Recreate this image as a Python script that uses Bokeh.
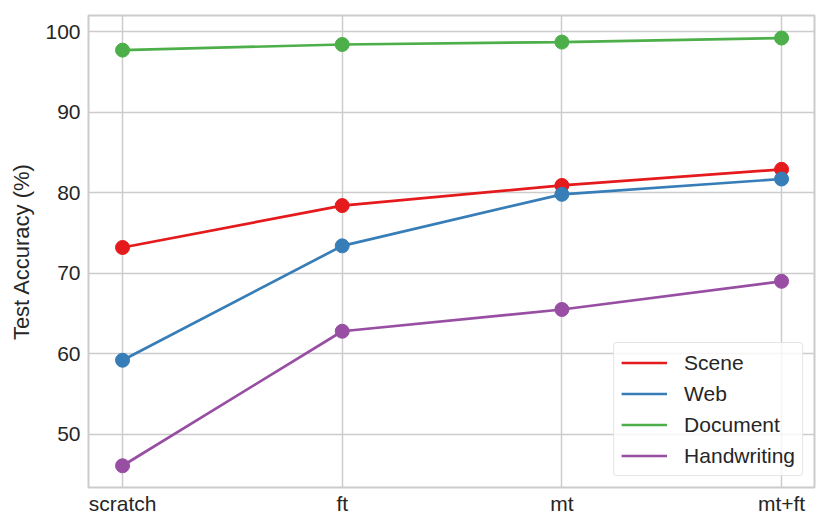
from bokeh.plotting import figure
from bokeh.models import FixedTicker, Range1d, Legend, LegendItem
from bokeh.embed import file_html
from bokeh.resources import INLINE

categories = ["scratch", "ft", "mt", "mt+ft"]
scene = [73.2, 78.4, 80.9, 82.9]
web = [59.2, 73.4, 79.8, 81.7]
document = [97.7, 98.4, 98.7, 99.2]
handwriting = [46.1, 62.8, 65.5, 69.0]
series_names = ["Scene", "Web", "Document", "Handwriting"]
colors = ["#e41a1c", "#377eb8", "#4daf4a", "#984ea3"]

xs = list(range(len(categories)))
FONT = "Liberation Sans"
TXT = "#262626"
FS = "21px"

p = figure(width=822, height=522, output_backend="svg", toolbar_location=None,
           x_range=Range1d(-0.155, 3.15), y_range=Range1d(43.4, 102.0),
           min_border_left=88, min_border_right=8, min_border_top=15, min_border_bottom=35)

items = []
for name, vals, c in zip(series_names, [scene, web, document, handwriting], colors):
    l = p.line(xs, vals, line_color=c, line_width=2.7)
    p.scatter(xs, vals, size=14, fill_color=c, line_color=c)
    items.append(LegendItem(label=name, renderers=[l]))

legend = Legend(items=items, location="bottom_right")
legend.label_text_font = FONT
legend.label_text_font_size = FS
legend.label_text_color = TXT
legend.border_line_color = "#cccccc"
legend.border_line_width = 1.5
legend.border_radius = 4
legend.background_fill_alpha = 0.8
legend.glyph_width = 46
legend.glyph_height = 25
legend.label_height = 25
legend.spacing = 6
legend.padding = 7
legend.margin = 11
legend.label_standoff = 17
p.add_layout(legend)

p.xaxis.ticker = FixedTicker(ticks=xs)
p.xaxis.major_label_overrides = {i: c for i, c in enumerate(categories)}
p.yaxis.ticker = FixedTicker(ticks=[50, 60, 70, 80, 90, 100])
p.yaxis.axis_label = "Test Accuracy (%)"

for ax in [p.xaxis[0], p.yaxis[0]]:
    ax.axis_line_color = None
    ax.major_tick_line_color = None
    ax.minor_tick_line_color = None
    ax.major_tick_out = 0
    ax.major_tick_in = 0
    ax.major_label_text_font = FONT
    ax.major_label_text_font_size = FS
    ax.major_label_text_color = TXT
    ax.axis_label_text_font = FONT
    ax.axis_label_text_font_size = "22px"
    ax.axis_label_text_font_style = "normal"
    ax.axis_label_text_color = TXT
p.xaxis.major_label_standoff = 4
p.yaxis.major_label_standoff = 8
p.yaxis.axis_label_standoff = 8

p.grid.grid_line_color = "#cccccc"
p.grid.grid_line_width = 1.5
p.outline_line_color = "#cccccc"
p.outline_line_width = 2
p.background_fill_color = "white"

open("out.html", "w").write(file_html(p, INLINE))
